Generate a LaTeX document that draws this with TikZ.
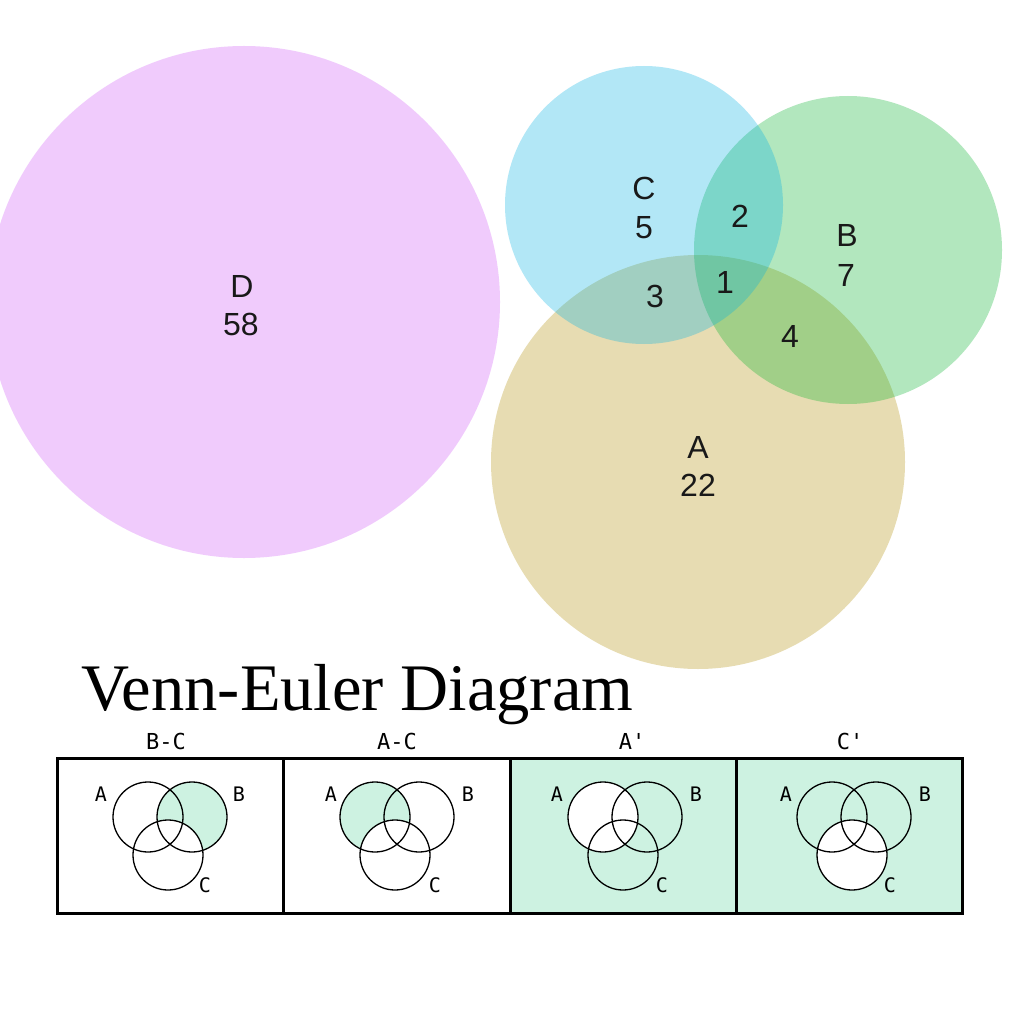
\documentclass[tikz,border=0pt]{standalone}
\usepackage{fontspec}
\setmainfont{Liberation Serif}
\newfontfamily\labfont{Liberation Sans}
\newfontfamily\panfont{DejaVu Sans Mono}
\definecolor{Dcol}{RGB}{208,85,248}
\definecolor{Acol}{RGB}{178,142,2}
\definecolor{Bcol}{RGB}{2,178,42}
\definecolor{Ccol}{RGB}{2,178,228}
\definecolor{mint}{RGB}{205,242,225}
\tikzset{
  blob/.style={fill opacity=0.3},
  biglab/.style={font=\labfont\fontsize{32}{38}\selectfont, anchor=base, inner sep=0pt, text=black!90},
  ptitle/.style={font=\panfont\fontsize{22}{26}\selectfont, anchor=base, inner sep=0pt},
  plab/.style={font=\panfont\fontsize{20}{24}\selectfont, anchor=base, inner sep=0pt},
  smallc/.style={draw=black, line width=1.3pt},
  boxline/.style={draw=black, line width=3pt}
}
\begin{document}
\begin{tikzpicture}[x=1pt,y=-1pt]
\useasboundingbox (0,0) rectangle (1016,1016);
\fill[white] (0,0) rectangle (1016,1016);
% big Euler circles
\begin{scope}
\clip (0,0) rectangle (1016,1016);
\fill[Dcol, blob] (244,302) circle[radius=256pt];
\fill[Acol, blob] (698,462) circle[radius=207pt];
\fill[Bcol, blob] (848,250) circle[radius=154pt];
\fill[Ccol, blob] (644,205) circle[radius=139pt];
\end{scope}
% labels
\node[biglab] (dname) at (242,297) {D};
\node[biglab] (dnum) at (241,335) {58};
\node[biglab] (cname) at (644,200) {C};
\node[biglab] (cnum) at (644,238) {5};
\node[biglab] (bname) at (847,247) {B};
\node[biglab] (bnum) at (846,286) {7};
\node[biglab] (aname) at (698,458) {A};
\node[biglab] (anum) at (698,496) {22};
\node[biglab] (n2) at (740,228) {2};
\node[biglab] (n1) at (725,293) {1};
\node[biglab] (n3) at (655,307) {3};
\node[biglab] (n4) at (790,347) {4};
% title
\node[font=\fontsize{66.5}{70}\selectfont, anchor=base west, inner sep=0pt] (title) at (81,710) {Venn-Euler Diagram};
% panel backgrounds and shading
\fill[mint] (510,758) rectangle (736,913);
\fill[mint] (736,758) rectangle (962,913);
% panel 1: B-C
\fill[mint] (192,817) circle[radius=35pt];
\fill[white] (168,855) circle[radius=35pt];
% panel 2: A-C
\fill[mint] (375,817) circle[radius=35pt];
\fill[white] (395,855) circle[radius=35pt];
% panel 3: A'
\fill[white] (603,817) circle[radius=35pt];
% panel 4: C'
\fill[white] (852,855) circle[radius=35pt];
% circle outlines
\foreach \ax in {148,375,603,832}{
  \draw[smallc] (\ax,817) circle[radius=35pt];
  \draw[smallc] (\ax+44,817) circle[radius=35pt];
  \draw[smallc] (\ax+20,855) circle[radius=35pt];
}
% panel letters
\node[plab] (p1a) at (101,801) {A};
\node[plab] (p1b) at (239,801) {B};
\node[plab] (p1c) at (205,892) {C};
\node[plab] (p2a) at (331,801) {A};
\node[plab] (p2b) at (468,801) {B};
\node[plab] (p2c) at (435,892) {C};
\node[plab] (p3a) at (557,801) {A};
\node[plab] (p3b) at (696,801) {B};
\node[plab] (p3c) at (662,892) {C};
\node[plab] (p4a) at (786,801) {A};
\node[plab] (p4b) at (925,801) {B};
\node[plab] (p4c) at (890,892) {C};
% panel titles
\node[ptitle] (t1) at (166,749) {B-C};
\node[ptitle] (t2) at (397,749) {A-C};
\node[ptitle] (t3) at (632,749) {A'};
\node[ptitle] (t4) at (850,749) {C'};
% boxes
\draw[boxline] (57,758) rectangle (962,913);
\draw[boxline] (283,758) -- (283,913);
\draw[boxline] (510,758) -- (510,913);
\draw[boxline] (736,758) -- (736,913);
\end{tikzpicture}
\end{document}
